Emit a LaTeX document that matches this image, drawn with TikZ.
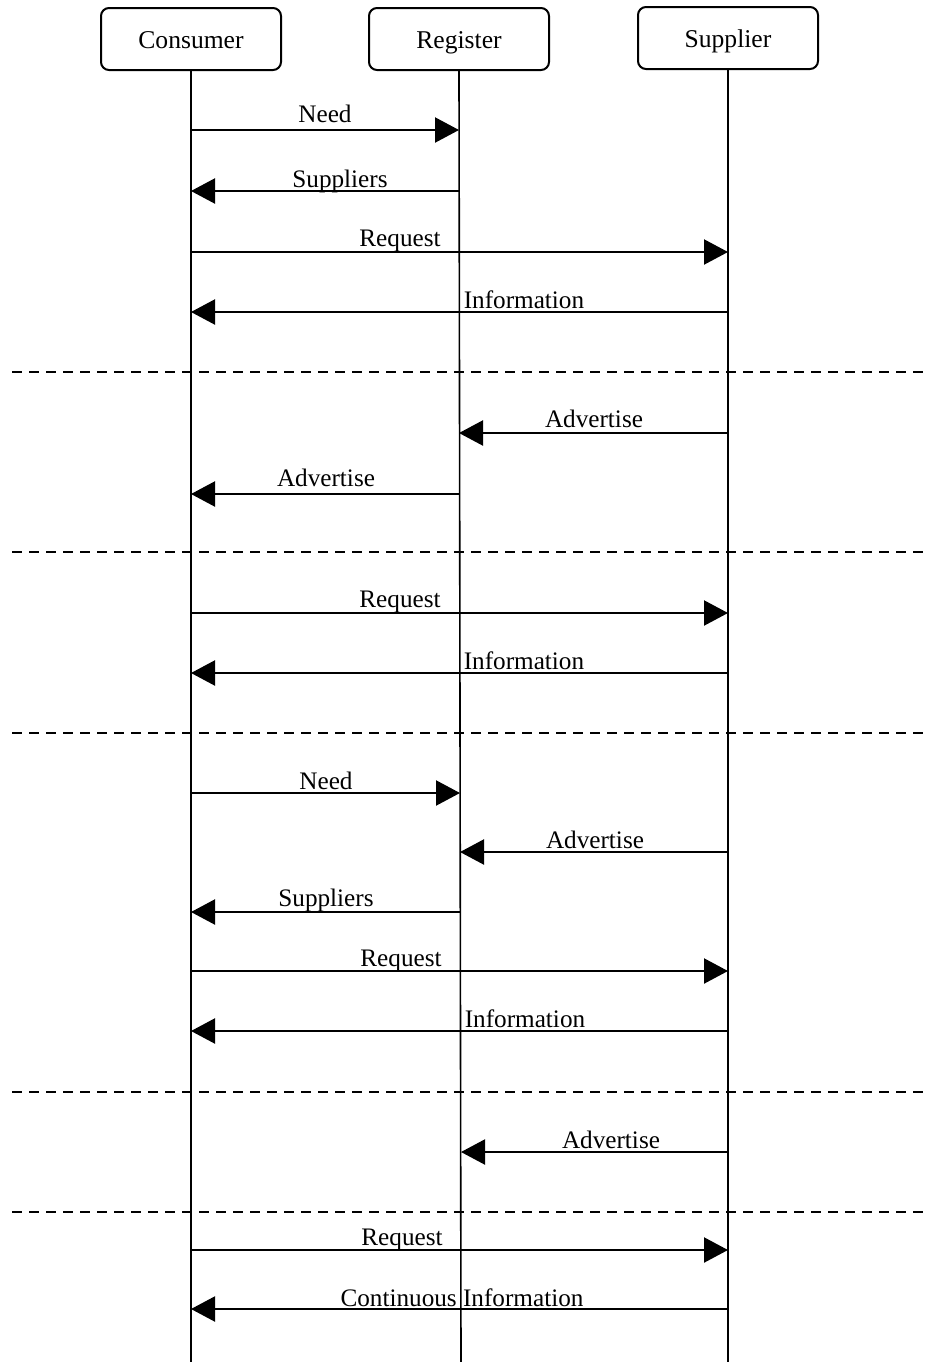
\documentclass[tikz,border=0pt]{standalone}
\usepackage{fontspec}
\setmainfont{Liberation Serif}
\usetikzlibrary{arrows.meta}
\tikzset{
  actor/.style={draw, line width=1pt, rounded corners=4pt, minimum width=90pt, minimum height=31pt, inner sep=0pt, text height=10pt, text depth=1pt, font=\fontsize{12.8pt}{14pt}\selectfont},
  lifeline/.style={line width=0.8pt},
  msgarrow/.style={line width=1.1pt, -{Triangle[length=12pt,width=12.5pt]}},
  lbl/.style={anchor=base, inner sep=0pt, font=\fontsize{12.6pt}{14pt}\selectfont},
  sep/.style={line width=0.6pt, dash pattern=on 5pt off 3.5pt}
}
\newcommand\msg[7]{%
  \coordinate (m#1a) at (#2,#4);
  \coordinate (m#1b) at (#3,#4);
  \draw[msgarrow] (m#1a) -- (m#1b);
  \node[lbl] (l#1) at (#6,#7) {#5};}
\begin{document}
\begin{tikzpicture}[x=0.5pt,y=-0.5pt]
\useasboundingbox (0,0) rectangle (929,1362);
\node[actor] (C) at (191,39) {Consumer};
\node[actor] (R) at (459,39) {Register};
\node[actor] (S) at (728,38) {Supplier};
\coordinate (Cend) at (191,1362);
\coordinate (Rend) at (461,1362);
\coordinate (Send) at (728,1362);
\draw[lifeline] (C.south) -- (Cend);
\draw[lifeline] (R.south) -- (Rend);
\draw[lifeline] (S.south) -- (Send);
% separators
\foreach \i/\y in {1/372,2/552,3/733,4/1092,5/1212}{
  \coordinate (d\i a) at (12,\y);
  \coordinate (d\i b) at (932,\y);
  \draw[sep] (d\i a) -- (d\i b);
}
\msg{1}{191}{459}{130}{Need}{325}{122}
\msg{2}{459}{191}{191}{Suppliers}{340}{187}
\msg{3}{191}{728}{252}{Request}{400}{246}
\msg{4}{728}{191}{312}{Information}{524}{308}
\msg{5}{728}{459}{433}{Advertise}{594}{427}
\msg{6}{459}{191}{494}{Advertise}{326}{486}
\msg{7}{191}{728}{613}{Request}{400}{607}
\msg{8}{728}{191}{673}{Information}{524}{669}
\msg{9}{191}{460}{793}{Need}{326}{789}
\msg{10}{728}{460}{852}{Advertise}{595}{848}
\msg{11}{460}{191}{912}{Suppliers}{326}{906}
\msg{12}{191}{728}{971}{Request}{401}{966}
\msg{13}{728}{191}{1031}{Information}{525}{1027}
\msg{14}{728}{461}{1152}{Advertise}{611}{1148}
\msg{15}{191}{728}{1250}{Request}{402}{1245}
\msg{16}{728}{191}{1309}{Continuous Information}{462}{1306}
\end{tikzpicture}
\end{document}
